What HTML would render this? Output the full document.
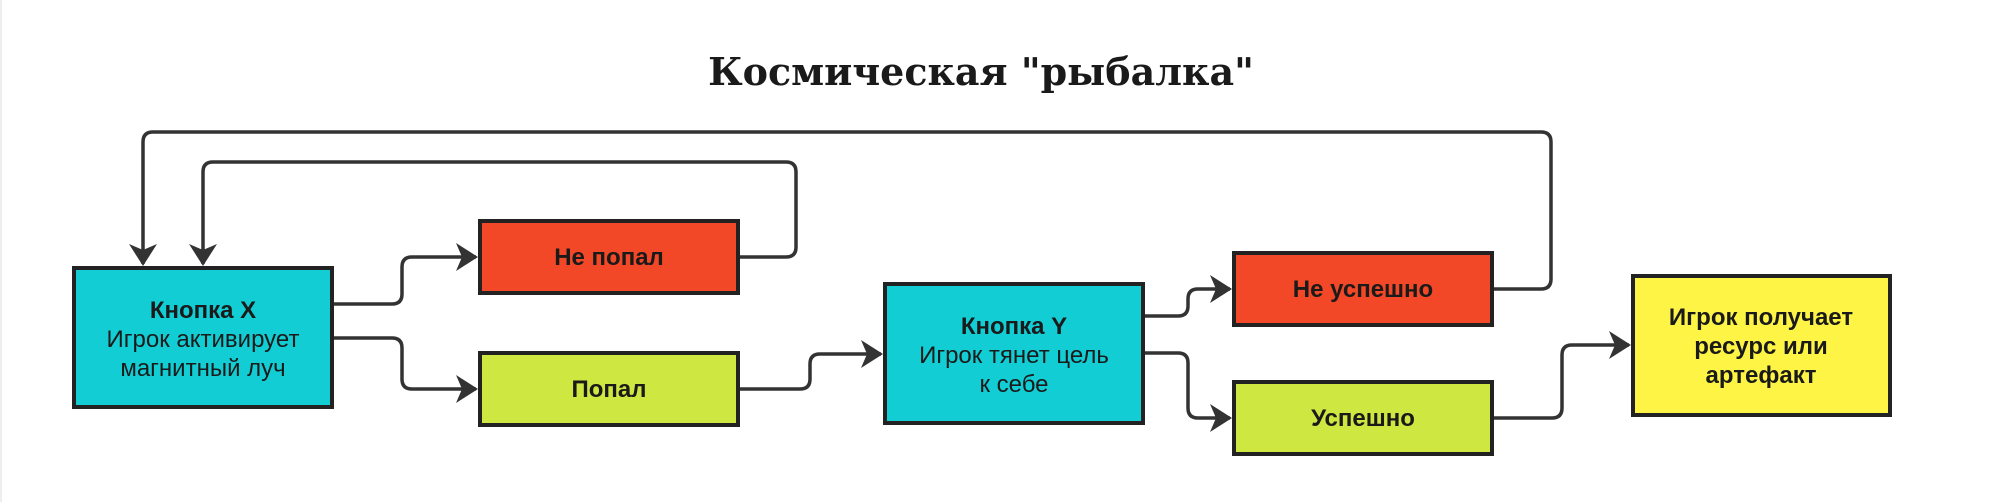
<!DOCTYPE html>
<html><head><meta charset="utf-8"><style>
html,body{margin:0;padding:0;background:#fff;}
svg{display:block;}
.t{font-family:"Liberation Sans",sans-serif;font-size:24px;fill:#1a1a1a;text-anchor:middle;}
.b{font-weight:bold;}
</style></head><body>
<svg width="1990" height="502" viewBox="0 0 1990 502" xmlns="http://www.w3.org/2000/svg">
<defs>
<marker id="a" viewBox="0 0 22 28" refX="20" refY="14" markerWidth="22" markerHeight="28" markerUnits="userSpaceOnUse" orient="auto">
<path d="M0,0 L22,14 L0,28 L6,14 Z" fill="#333"/>
</marker>
</defs>
<line x1="1" y1="0" x2="1" y2="502" stroke="#eee" stroke-width="2"/>
<text x="981" y="85" text-anchor="middle" style="font-family:'DejaVu Serif','Liberation Serif',serif;font-weight:bold;font-size:38px;fill:#1a1a1a">Космическая "рыбалка"</text>
<g fill="none" stroke="#333" stroke-width="3.5" stroke-linejoin="round">
<path d="M1494,289 H1541 Q1551,289 1551,279 V142 Q1551,132 1541,132 H153 Q143,132 143,142 V264" marker-end="url(#a)"/>
<path d="M740,257 H786 Q796,257 796,247 V172 Q796,162 786,162 H213 Q203,162 203,172 V264" marker-end="url(#a)"/>
<path d="M334,304 H392 Q402,304 402,294 V267 Q402,257 412,257 H476" marker-end="url(#a)"/>
<path d="M334,338 H392 Q402,338 402,348 V379 Q402,389 412,389 H476" marker-end="url(#a)"/>
<path d="M740,389 H800 Q810,389 810,379 V364 Q810,354 820,354 H881" marker-end="url(#a)"/>
<path d="M1145,316 H1178 Q1188,316 1188,306 V299 Q1188,289 1198,289 H1230" marker-end="url(#a)"/>
<path d="M1145,353 H1178 Q1188,353 1188,363 V408 Q1188,418 1198,418 H1230" marker-end="url(#a)"/>
<path d="M1494,418 H1552 Q1562,418 1562,408 V355 Q1562,345 1572,345 H1629" marker-end="url(#a)"/>
</g>
<g stroke="#222" stroke-width="4">
<rect x="74" y="268" width="258" height="139" fill="#13cdd4"/>
<rect x="480" y="221" width="258" height="72" fill="#f24827"/>
<rect x="480" y="353" width="258" height="72" fill="#cee741"/>
<rect x="885" y="284" width="258" height="139" fill="#13cdd4"/>
<rect x="1234" y="253" width="258" height="72" fill="#f24827"/>
<rect x="1234" y="382" width="258" height="72" fill="#cee741"/>
<rect x="1633" y="276" width="257" height="139" fill="#fef445"/>
</g>
<text class="t b" x="203" y="318">Кнопка X</text>
<text class="t" x="203" y="347">Игрок активирует</text>
<text class="t" x="203" y="376">магнитный луч</text>
<text class="t b" x="609" y="265">Не попал</text>
<text class="t b" x="609" y="397">Попал</text>
<text class="t b" x="1014" y="334">Кнопка Y</text>
<text class="t" x="1014" y="363">Игрок тянет цель</text>
<text class="t" x="1014" y="392">к себе</text>
<text class="t b" x="1363" y="297">Не успешно</text>
<text class="t b" x="1363" y="426">Успешно</text>
<text class="t b" x="1761" y="325">Игрок получает</text>
<text class="t b" x="1761" y="354">ресурс или</text>
<text class="t b" x="1761" y="383">артефакт</text>
</svg>
</body></html>
